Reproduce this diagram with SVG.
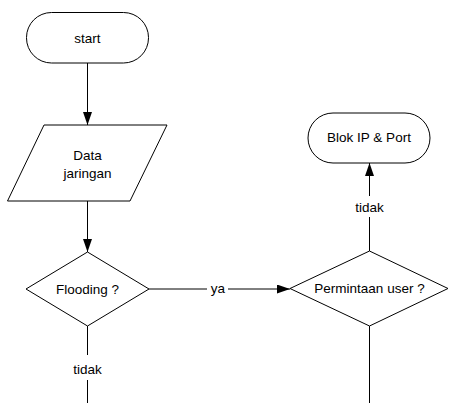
<svg xmlns="http://www.w3.org/2000/svg" width="449" height="403" viewBox="0 0 449 403">
<defs>
<style>
.s{fill:#fff;stroke:#000;stroke-width:1}
.t{font-family:"Liberation Sans",Arial,sans-serif;font-size:13.5px;fill:#000;text-anchor:middle}
.c{stroke:#000;stroke-width:1;fill:none}
</style>
<marker id="ah" markerWidth="14" markerHeight="10" refX="13" refY="4.5" orient="auto" markerUnits="userSpaceOnUse">
<path d="M0,0 L13,4.5 L0,9 Z" fill="#000"/>
</marker>
</defs>
<g id="connectors">
<line class="c" x1="87.5" y1="63" x2="87.5" y2="125" marker-end="url(#ah)"/>
<line class="c" x1="87.5" y1="201" x2="87.5" y2="252" marker-end="url(#ah)"/>
<line class="c" x1="87.5" y1="326" x2="87.5" y2="355"/>
<line class="c" x1="87.5" y1="380" x2="87.5" y2="403"/>
<line class="c" x1="149" y1="289" x2="207" y2="289"/>
<line class="c" x1="228" y1="289" x2="290" y2="289" marker-end="url(#ah)"/>
<line class="c" x1="369.5" y1="251" x2="369.5" y2="217"/>
<line class="c" x1="369.5" y1="196" x2="369.5" y2="163" marker-end="url(#ah)"/>
<line class="c" x1="369.5" y1="326" x2="369.5" y2="403"/>
<text class="t" x="87.5" y="374">tidak</text>
<text class="t" x="218" y="293">ya</text>
<text class="t" x="369.5" y="211.5">tidak</text>
</g>
<g id="start">
<rect class="s" x="26.5" y="12.5" width="122" height="50.5" rx="25" ry="25"/>
<text class="t" x="87.5" y="43">start</text>
</g>
<g id="data">
<polygon class="s" points="44,125 167,125 130,201 7.5,201"/>
<text class="t" x="87.5" y="160">Data</text>
<text class="t" x="87.5" y="177.5">jaringan</text>
</g>
<g id="flooding">
<polygon class="s" points="87.5,252 149,289 87.5,326 26,289"/>
<text class="t" x="87.5" y="294">Flooding ?</text>
</g>
<g id="permintaan">
<polygon class="s" points="369.5,251 448,288.5 369.5,326 290,288.5"/>
<text class="t" x="369.5" y="293">Permintaan user ?</text>
</g>
<g id="blok">
<rect class="s" x="308" y="113" width="122" height="50" rx="25" ry="25"/>
<text class="t" x="369" y="142">Blok IP &amp; Port</text>
</g>
</svg>
